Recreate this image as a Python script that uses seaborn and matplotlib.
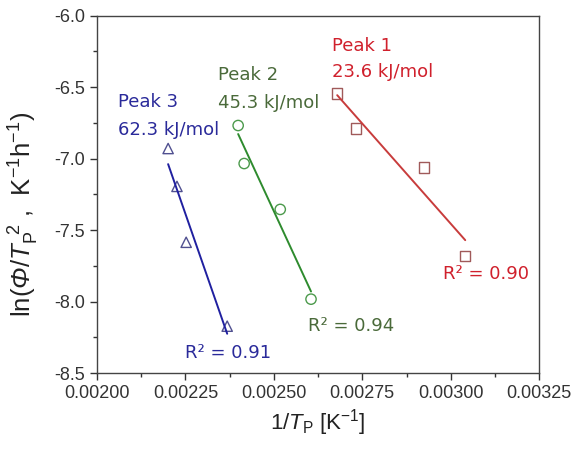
import numpy as np
import pandas as pd
import matplotlib
matplotlib.use("Agg")
import matplotlib.pyplot as plt
import seaborn as sns

# Data
peak1_x = [0.002679, 0.002733, 0.002925, 0.003041]
peak1_y = [-6.545, -6.789, -7.061, -7.683]
peak2_x = [0.002399, 0.002416, 0.002518, 0.002605]
peak2_y = [-6.768, -7.034, -7.355, -7.983]
peak3_x = [0.002201, 0.002226, 0.002252, 0.002368]
peak3_y = [-6.929, -7.194, -7.585, -8.172]

x_ticks = [0.00200, 0.00225, 0.00250, 0.00275, 0.00300, 0.00325]
x_tick_labels = ["0.00200", "0.00225", "0.00250", "0.00275", "0.00300", "0.00325"]
y_ticks = [-8.5, -8.0, -7.5, -7.0, -6.5, -6.0]
y_tick_labels = ["-8.5", "-8.0", "-7.5", "-7.0", "-6.5", "-6.0"]

peak_names = ["Peak 1", "Peak 2", "Peak 3"]
energies = ["23.6 kJ/mol", "45.3 kJ/mol", "62.3 kJ/mol"]
r2_labels = ["R² = 0.90", "R² = 0.94", "R² = 0.91"]

sns.set_theme(style="ticks")
plt.rcParams['font.family'] = ['Liberation Sans', 'DejaVu Sans']
plt.rcParams['mathtext.fontset'] = 'custom'
plt.rcParams['mathtext.rm'] = 'Liberation Sans'
plt.rcParams['mathtext.it'] = 'Liberation Sans:italic'
plt.rcParams['mathtext.cal'] = 'Liberation Sans:italic'

fig = plt.figure(figsize=(5.81, 4.5), dpi=100)
ax = fig.add_axes([0.167, 0.171, 0.761, 0.794])

line_cols = ["#c83c3c", "#2e8b2e", "#2020a0"]
mark_cols = ["#a05a5a", "#4c9a4c", "#505090"]
text_cols = ["#d0202c", "#4a6a3a", "#2a2a9a"]
markers = ["s", "o", "^"]
xs = [peak1_x, peak2_x, peak3_x]
ys = [peak1_y, peak2_y, peak3_y]

for i in range(3):
    df = pd.DataFrame({"x": xs[i], "y": ys[i]})
    sns.regplot(data=df, x="x", y="y", scatter=False, ci=None, truncate=True,
                ax=ax, line_kws=dict(color=line_cols[i], lw=1.4))
    sns.scatterplot(data=df, x="x", y="y", marker=markers[i], s=55,
                    facecolor="none", edgecolor=mark_cols[i], linewidth=1.0, ax=ax)

ax.set_xlim(0.00200, 0.00325)
ax.set_ylim(-8.5, -6.0)
ax.set_xticks(x_ticks)
ax.set_xticklabels(x_tick_labels)
ax.set_yticks(y_ticks)
ax.set_yticklabels(y_tick_labels)
ax.set_xticks([0.002125, 0.002375, 0.002625, 0.002875, 0.003125], minor=True)
ax.set_yticks([-8.25, -7.75, -7.25, -6.75, -6.25], minor=True)
ax.tick_params(which="major", direction="out", length=5, width=1, labelsize=13, colors="#333333", labelcolor="#333333")
ax.tick_params(which="minor", direction="out", length=3, width=1, colors="#333333")
for s in ax.spines.values():
    s.set_color("#444444")
    s.set_linewidth(1.0)

ax.set_xlabel(r"1/$T_\mathrm{P}$ [K$^{-1}$]", fontsize=16, color="#222222", labelpad=4)
ax.set_ylabel(r"ln($\mathcal{Φ}$/$T_\mathrm{P}^{\ \,2}$ ,  K$^{-1}$h$^{-1}$)", fontsize=18.5, color="#222222")
ax.yaxis.set_label_coords(-0.127, 0.443)

def px(xp, yp):
    return fig.transFigure.inverted().transform((xp, 450 - yp))

tf = dict(fontsize=13, family=["DejaVu Sans"], transform=fig.transFigure, va="center", ha="left")
pos_peak = [(332, 46, 72), (218, 75, 103), (118, 102, 130)]
for i, (lx, y1, y2) in enumerate(pos_peak):
    fx, fy = px(lx, y1)
    fig.text(fx, fy, peak_names[i], color=text_cols[i], **tf)
    fx, fy = px(lx, y2)
    fig.text(fx, fy, energies[i], color=text_cols[i], **tf)
pos_r2 = [(443, 274), (308, 326), (185, 353)]
for i, (lx, ly) in enumerate(pos_r2):
    fx, fy = px(lx, ly)
    fig.text(fx, fy, r2_labels[i], color=text_cols[i], **tf)

fig.savefig("out.png", dpi=100, facecolor="white")
